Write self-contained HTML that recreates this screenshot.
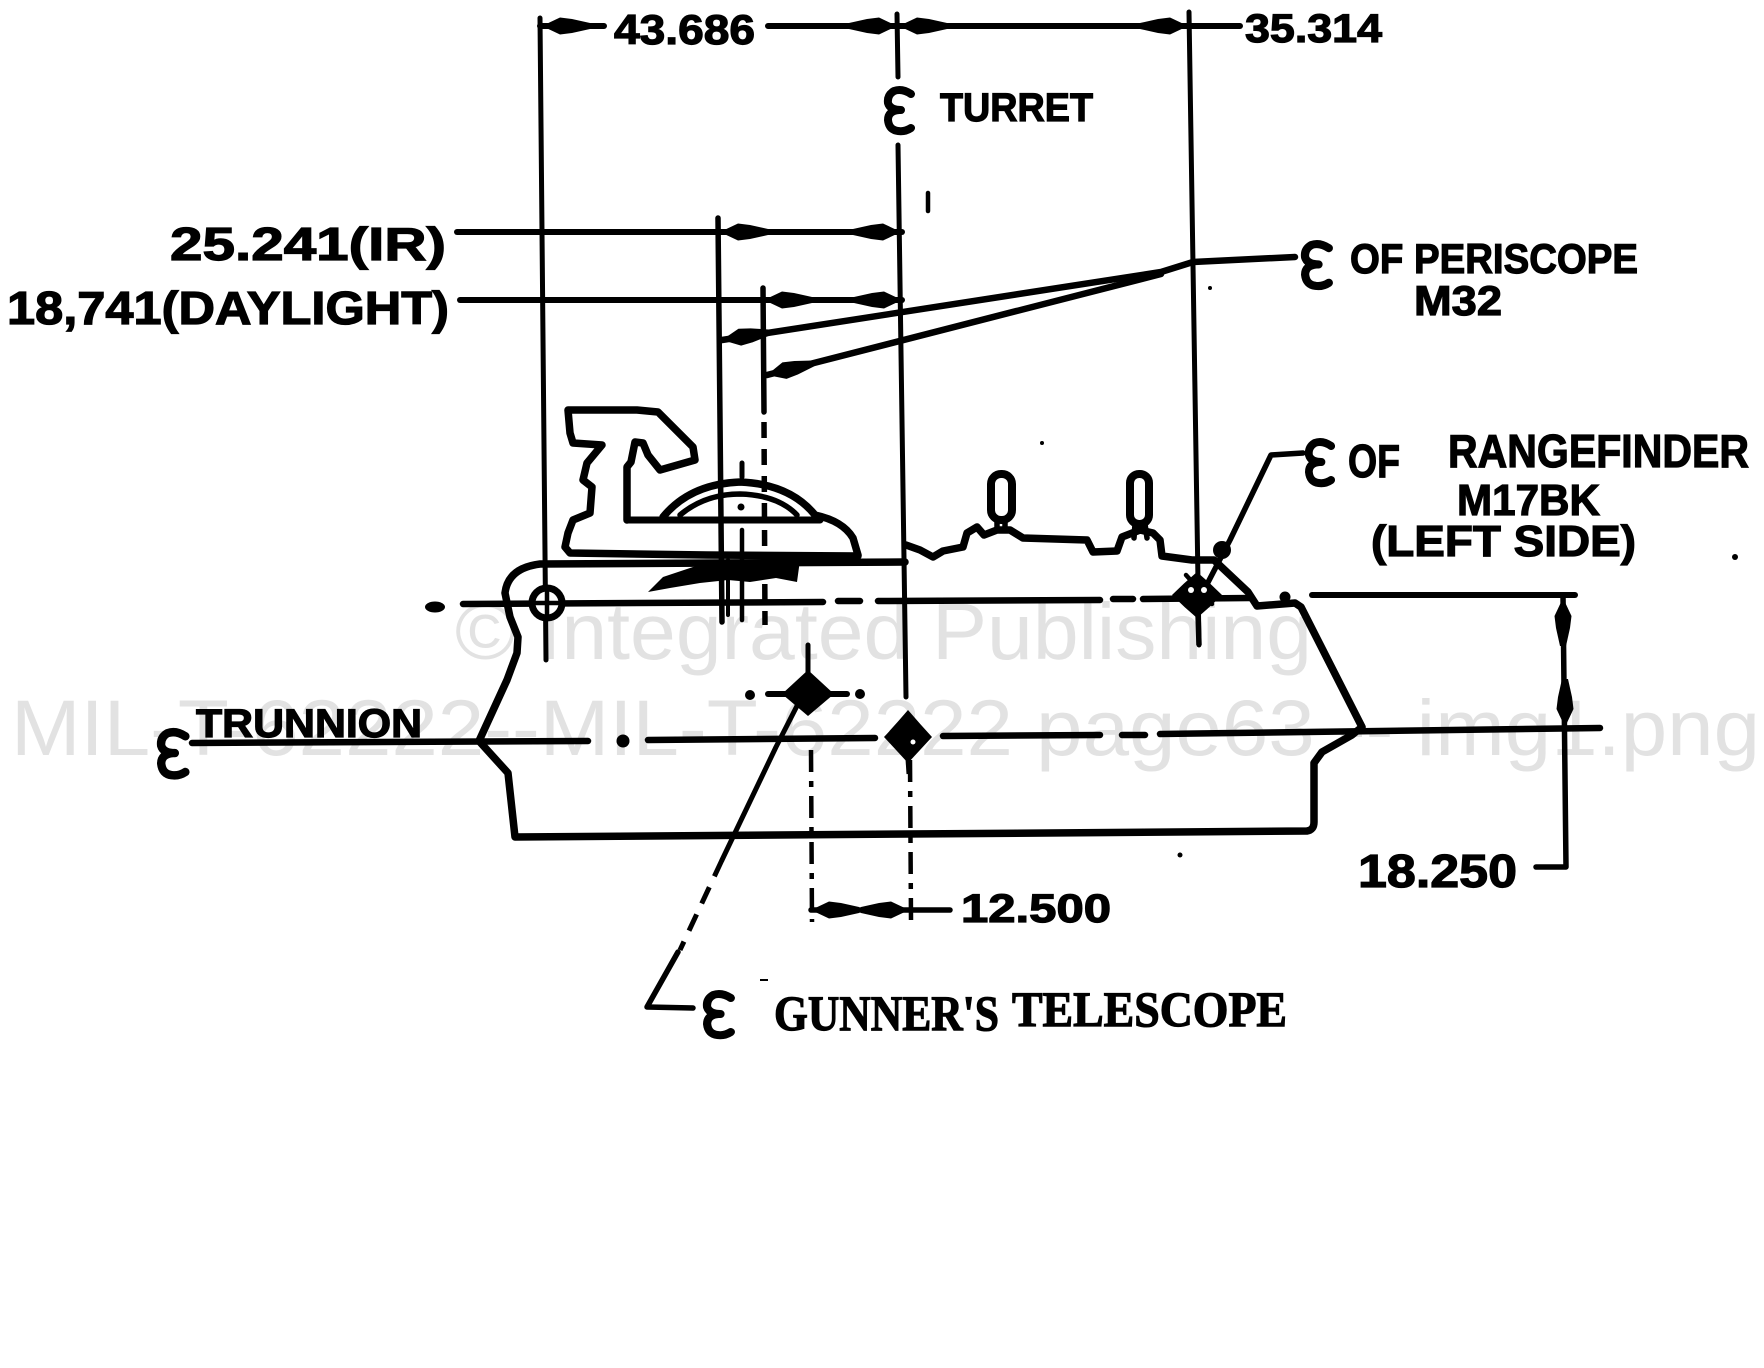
<!DOCTYPE html>
<html>
<head>
<meta charset="utf-8">
<style>
  html,body{margin:0;padding:0;background:#fff;}
  svg{display:block;}
  .t{font-family:"Liberation Sans",sans-serif;font-weight:bold;fill:#000;stroke:#000;stroke-width:1.2;}
  .s{font-family:"Liberation Serif",serif;font-weight:bold;fill:#000;stroke:#000;stroke-width:1.2;}
  .wm{font-family:"Liberation Sans",sans-serif;fill:#e2e2e2;}
</style>
</head>
<body>
<svg width="1764" height="1368" viewBox="0 0 1764 1368" xmlns="http://www.w3.org/2000/svg">
  <defs>
    <path id="ah" d="M0,0 L-18,-8.5 L-30,-7 L-48,-3 L-48,3 L-30,7 L-18,8.5 Z" fill="#000"/>
    <path id="cl" d="M27,6 Q18,0 10,3 Q3,7 4,15 Q6,22 17,22 M15,22 Q4,23 4,32 Q5,42 14,43 Q21,44 27,40" fill="none" stroke="#000" stroke-width="8" stroke-linecap="round" stroke-linejoin="round"/>
  </defs>

  <!-- watermark -->
  <text class="wm" x="455" y="659" font-size="80" textLength="857" lengthAdjust="spacingAndGlyphs">© Integrated Publishing</text>
  <text class="wm" x="11" y="755" font-size="79" textLength="1749" lengthAdjust="spacingAndGlyphs">MIL-T-62222--MIL-T-62222 page63 -- img1.png</text>

  <g stroke="#000" fill="none" stroke-linecap="round" stroke-linejoin="round">
    <path d="M540,18 L546,660" stroke-width="5"/>
    <path d="M897,14 L898,77" stroke-width="5"/>
    <path d="M898,145 L906,697" stroke-width="5"/>
    <path d="M910,760 L911,920" stroke-width="4.5" stroke-dasharray="22 9 6 9" stroke-linecap="butt"/>
    <path d="M1189,12 L1199,645" stroke-width="5"/>
    <path d="M718,218 L722,622" stroke-width="5.5"/>
    <path d="M763,288 L764,412" stroke-width="5.5"/>
    <path d="M764,422 L765,625" stroke-width="5.5" stroke-dasharray="16 11" stroke-linecap="butt"/>
    <path d="M742,463 L742,477" stroke-width="5"/>
    <path d="M742,530 L742,620" stroke-width="4.5"/>
    <path d="M728,560 L728,615" stroke-width="4"/>
    <path d="M928,193 L928,211" stroke-width="4.5"/>

    <path d="M540,26 L604,26 M768,26 L1240,26" stroke-width="6"/>
    <path d="M457,232 L902,232" stroke-width="6"/>
    <path d="M460,300 L902,300" stroke-width="6"/>
    <path d="M1295,257 L1193,262 L1161,272 L722,340" stroke-width="6.5"/>
    <path d="M1161,274 L767,375" stroke-width="6.5"/>
    <path d="M1303,453 L1271,455 L1230,540 L1203,592" stroke-width="5.5"/>

    <path d="M905,562 L540,564 Q508,568 505,593 L510,617 L518,637 L517,653 L507,680 L479,741 L508,773 L515,837 L1307,831 Q1314,830 1314,822 L1314,763 L1322,752 L1352,735 L1362,727 L1301,607 L1295,603 L1257,606 L1248,592 L1214,560 L1192,560 L1162,556 L1160,540 L1153,533 L1140,530 L1122,537 L1117,551 L1093,552 L1087,540 L1023,538 L1010,530 L997,530 L984,535 L977,527 L967,533 L963,547 L943,551 L933,557 L920,550 L906,545" stroke-width="7.5"/>

    <path d="M627,520 L627,467 L631,462 L635,442 L643,443 L648,455 L660,470 L695,460 L693,447 L658,412 L637,410 L568,410 L570,433 L573,443 L602,445 L587,463 L583,480 L592,487 L590,513 L573,520 L568,533 L565,547 L570,553 L707,555 L858,556" stroke-width="7.5"/>
    <path d="M627,520 L820,520" stroke-width="7"/>
    <path d="M663,517 Q690,484 740,482 Q790,484 815,515 Q843,521 853,538 L858,555" stroke-width="7.5"/>
    <path d="M680,515 Q705,494 740,494 Q778,495 797,515" stroke-width="5.5"/>

    <rect x="991" y="474" width="21" height="46" rx="10" stroke-width="8" fill="#fff"/>
    <path d="M997,520 L997,530 M1005,520 L1005,530" stroke-width="5.5"/>
    <rect x="1130" y="474" width="19" height="50" rx="9" stroke-width="8" fill="#fff"/>
    <path d="M1135,524 L1134,538 M1145,524 L1147,538" stroke-width="5.5"/>

    <path d="M463,604 L823,602 M838,601 L860,601 M878,601 L1100,600 M1113,599 L1133,599 M1143,599 L1250,598" stroke-width="6.5"/>
    <path d="M1312,595 L1575,595" stroke-width="6"/>

    <path d="M192,743 L588,741 M648,740 L875,738 M943,736 L1100,735 M1122,735 L1145,735 M1160,734 L1600,728" stroke-width="6.5"/>

    <circle cx="547" cy="603" r="15" stroke-width="7" fill="#fff"/>
    <path d="M532,603 L562,603 M547,588 L547,618" stroke-width="4.5"/>

    <path d="M808,645 L808,675" stroke-width="5"/>
    <path d="M768,694 L847,694" stroke-width="6"/>

    <path d="M800,700 L776,747 L722,860" stroke-width="5"/>
    <path d="M722,860 L680,950" stroke-width="5" stroke-dasharray="18 12" stroke-linecap="butt"/>
    <path d="M678,952 L647,1007 L693,1008" stroke-width="5.5"/>

    <path d="M811,750 L812,922" stroke-width="4.5" stroke-dasharray="22 9 6 9" stroke-linecap="butt"/>
    <path d="M811,910 L950,910" stroke-width="5.5"/>

    <path d="M1563,595 L1566,867 L1536,867" stroke-width="5.5"/>

    <path d="M1186,575 L1212,604" stroke-width="4.5"/>
  </g>

  <g fill="#000">
    <polygon points="648,592 663,577 690,568 705,563 760,563 800,560 797,582 776,578 750,582 728,580 700,583 670,588"/>
    <ellipse cx="435" cy="607" rx="10" ry="5.5"/>
    <circle cx="623" cy="741" r="6.5"/>
    <circle cx="1285" cy="597" r="5.5"/>
    <circle cx="1222" cy="550" r="9"/>
    <!-- gunner blob -->
    <path d="M782,694 Q795,682 808,670 Q821,682 834,694 Q821,705 808,716 Q795,705 782,694 Z"/>
    <circle cx="750" cy="695" r="5"/>
    <circle cx="860" cy="694" r="5"/>
    <!-- trunnion diamond -->
    <path d="M884,737 Q896,724 908,710 Q920,724 932,737 Q920,750 908,763 Q896,750 884,737 Z"/>
    <path d="M908,759 L909,774" stroke="#000" stroke-width="5"/>
    <circle cx="913" cy="742" r="2.5" fill="#fff"/>
    <!-- rangefinder marker -->
    <path d="M1172,595 Q1184,583 1197,572 Q1210,583 1222,595 Q1210,607 1197,618 Q1184,607 1172,595 Z"/>
    <path d="M1198,613 L1199,645" stroke="#000" stroke-width="5.5"/>
    <circle cx="1191" cy="590" r="3" fill="#fff"/>
    <circle cx="1204" cy="590" r="3" fill="#fff"/>
    <circle cx="1042" cy="443" r="2"/>
    <circle cx="1210" cy="288" r="2"/>
    <circle cx="1735" cy="557" r="3"/>
    <circle cx="1180" cy="855" r="2.5"/>
    <circle cx="741" cy="507" r="3.5"/>
    <rect x="760" y="979" width="8" height="2"/>
  </g>

  <use href="#ah" transform="translate(542,26) rotate(180)"/>
  <use href="#ah" transform="translate(897,26)"/>
  <use href="#ah" transform="translate(899,26) rotate(180)"/>
  <use href="#ah" transform="translate(1188,26)"/>
  <use href="#ah" transform="translate(720,232) rotate(180)"/>
  <use href="#ah" transform="translate(901,232)"/>
  <use href="#ah" transform="translate(764,300) rotate(180)"/>
  <use href="#ah" transform="translate(902,300)"/>
  <use href="#ah" transform="translate(722,340) rotate(171)"/>
  <use href="#ah" transform="translate(767,375) rotate(166)"/>
  <use href="#ah" transform="translate(811,910) rotate(180)"/>
  <use href="#ah" transform="translate(909,910)"/>
  <use href="#ah" transform="translate(1563,598) rotate(-90)"/>
  <use href="#ah" transform="translate(1565,727) rotate(90)"/>

  <use href="#cl" transform="translate(884,88) scale(1,1)"/>
  <use href="#cl" transform="translate(1301,242) scale(1.03,1.02)"/>
  <use href="#cl" transform="translate(1305,440) scale(0.97,1)"/>
  <use href="#cl" transform="translate(157,730) scale(1.05,1.05)"/>
  <use href="#cl" transform="translate(703,992) scale(1.03,1)"/>

  <text class="t" x="614" y="44" font-size="42" textLength="141" lengthAdjust="spacingAndGlyphs">43.686</text>
  <text class="t" x="1245" y="42" font-size="40" textLength="137" lengthAdjust="spacingAndGlyphs">35.314</text>
  <text class="t" x="940" y="121" font-size="40" textLength="153" lengthAdjust="spacingAndGlyphs">TURRET</text>
  <text class="t" x="170" y="260" font-size="46" textLength="276" lengthAdjust="spacingAndGlyphs">25.241(IR)</text>
  <text class="t" x="7" y="324" font-size="46" textLength="442" lengthAdjust="spacingAndGlyphs">18,741(DAYLIGHT)</text>
  <text class="t" x="1350" y="273" font-size="42" textLength="288" lengthAdjust="spacingAndGlyphs">OF PERISCOPE</text>
  <text class="t" x="1414" y="315" font-size="42" textLength="88" lengthAdjust="spacingAndGlyphs">M32</text>
  <text class="t" x="1348" y="477" font-size="46" textLength="52" lengthAdjust="spacingAndGlyphs">OF</text>
  <text class="t" x="1448" y="467" font-size="46" textLength="301" lengthAdjust="spacingAndGlyphs">RANGEFINDER</text>
  <text class="t" x="1457" y="515" font-size="44" textLength="143" lengthAdjust="spacingAndGlyphs">M17BK</text>
  <text class="t" x="1371" y="556" font-size="44" textLength="265" lengthAdjust="spacingAndGlyphs">(LEFT SIDE)</text>
  <text class="t" x="196" y="737" font-size="40" textLength="226" lengthAdjust="spacingAndGlyphs">TRUNNION</text>
  <text class="t" x="961" y="922" font-size="40" textLength="150" lengthAdjust="spacingAndGlyphs">12.500</text>
  <text class="t" x="1358" y="887" font-size="46" textLength="159" lengthAdjust="spacingAndGlyphs">18.250</text>
  <text class="s" x="774" y="1030" font-size="50" textLength="225" lengthAdjust="spacingAndGlyphs">GUNNER'S</text>
  <text class="s" x="1012" y="1026" font-size="50" textLength="275" lengthAdjust="spacingAndGlyphs">TELESCOPE</text>
</svg>
</body>
</html>
